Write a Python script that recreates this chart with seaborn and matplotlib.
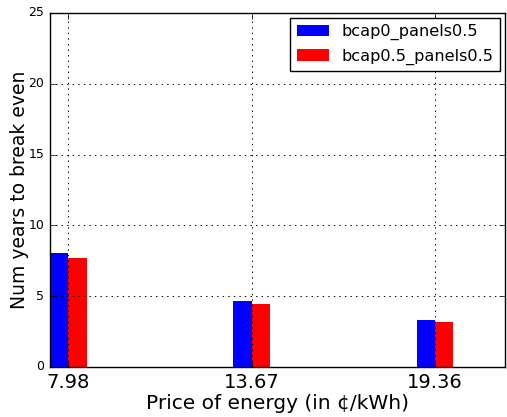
import matplotlib
matplotlib.use("Agg")
import matplotlib.pyplot as plt
import seaborn as sns
import pandas as pd

# Break-even time for two battery/panel configurations at three energy prices
prices = [7.98, 13.67, 19.36]
series_names = ["bcap0_panels0.5", "bcap0.5_panels0.5"]
years_bcap0 = [8.07, 4.66, 3.32]
years_bcap05 = [7.70, 4.45, 3.18]
colors = ["blue", "red"]

df = pd.DataFrame({
    "price": prices * 2,
    "years": years_bcap0 + years_bcap05,
    "config": [series_names[0]] * 3 + [series_names[1]] * 3,
})

plt.style.use("classic")
fig = plt.figure(figsize=(5.07, 4.17), dpi=100)
ax = fig.add_axes([50 / 507, (417 - 367) / 417, 455 / 507, 354 / 417])

sns.barplot(data=df, x="price", y="years", hue="config", hue_order=series_names,
            palette=colors, saturation=1, native_scale=True, width=0.2,
            linewidth=0, errorbar=None, ax=ax)

ax.set_xlim(prices[0] - 0.569, 21.53)
ax.set_ylim(0, 25)
ax.set_xticks(prices)
ax.set_xticklabels([f"{p:.2f}" for p in prices], fontsize=14)
ax.set_yticks([0, 5, 10, 15, 20, 25])
ax.tick_params(axis="y", labelsize=9)
ax.grid(True, color="black", linestyle=":", linewidth=0.7)
ax.set_axisbelow(False)
ax.set_xlabel("Price of energy (in ¢/kWh)", fontsize=14.5, labelpad=2)
ax.set_ylabel("Num years to break even", fontsize=13.5, labelpad=0)

leg = ax.legend(loc="upper right", fontsize=11.6, fancybox=False, title=None,
                borderaxespad=0.3)

fig.savefig("out.png", dpi=100)
